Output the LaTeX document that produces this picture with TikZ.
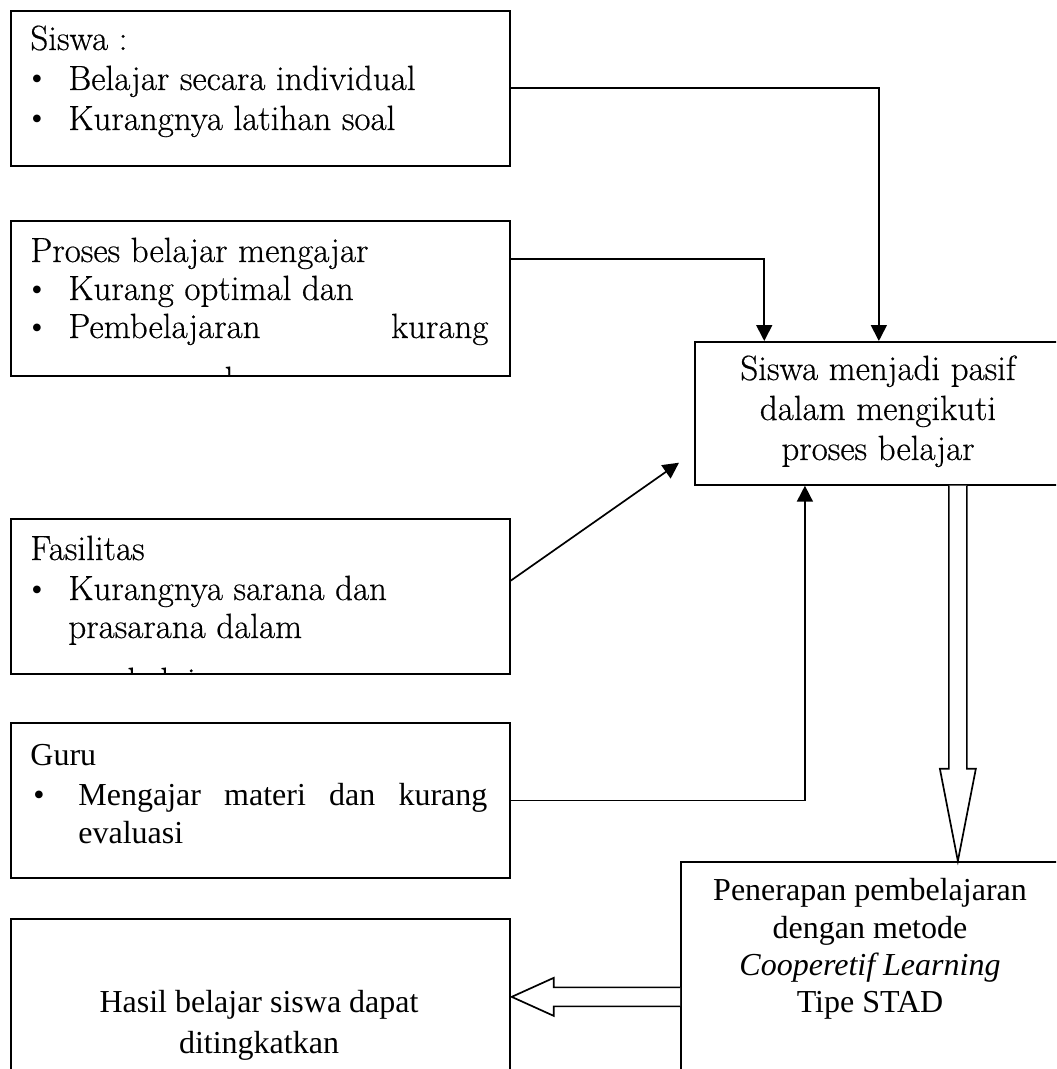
\documentclass[tikz,border=0pt]{standalone}
\usepackage{fontspec}
\newfontfamily\timesfam{Liberation Serif}
\newfontfamily\bookfam{Latin Modern Roman}[FakeBold=0.5]
\usetikzlibrary{arrows.meta,calc,positioning}

\newcommand{\pala}{\bookfam\fontsize{17.5}{20}\selectfont}
\newcommand{\tms}{\timesfam\fontsize{16}{20}\selectfont}
\newcommand{\dotmark}{{\timesfam\fontsize{16}{20}\selectfont\textbullet}}

\begin{document}
\begin{tikzpicture}[x=0.5pt,y=-0.5pt,
    box/.style={draw, line width=0.85pt, anchor=north west, inner sep=0pt},
    txt/.style={anchor=base west, inner sep=0pt},
    mid/.style={anchor=base, inner sep=0pt},
    link/.style={line width=0.85pt},
    tip/.style={link, -{Triangle[length=8pt,width=8pt]}},
    hollow/.style={link, fill=white}]
  \clip (0,0) rectangle (1056,1069);

  % Boxes
  \node[box, minimum width=249.5pt, minimum height=77.5pt] (siswa) at (10,10) {};
  \node[box, minimum width=249.5pt, minimum height=77.5pt] (proses) at (10,220) {};
  \node[box, minimum width=249.5pt, minimum height=77.5pt] (fasil) at (10,518) {};
  \node[box, minimum width=249.5pt, minimum height=77.5pt] (guru) at (10,722) {};
  \node[box, minimum width=249.5pt, minimum height=100pt] (hasil) at (10,918) {};
  \node[box, minimum width=184pt, minimum height=71.5pt] (pasif) at (694,341) {};
  \node[box, minimum width=190pt, minimum height=135pt] (terap) at (680,861) {};

  % Siswa
  \begin{scope}[font=\pala]
    \node[txt] (s0) at (30,50) {Siswa :};
    \node[txt] (s1b) at (31,90) {\dotmark};
    \node[txt] (s1) at (68,90) {Belajar secara individual};
    \node[txt] (s2b) at (31,130) {\dotmark};
    \node[txt] (s2) at (68,130) {Kurangnya latihan soal};
  \end{scope}

  % Proses belajar mengajar
  \begin{scope}[font=\pala]
    \clip (proses.north west) rectangle (proses.south east);
    \node[txt] (p0) at (30,262) {Proses belajar mengajar};
    \node[txt] (p1b) at (31,300) {\dotmark};
    \node[txt] (p1) at (68,300) {Kurang optimal dan};
    \node[txt] (p2b) at (31,338) {\dotmark};
    \node[txt] (p2) at (68,338) {\makebox[210pt][s]{Pembelajaran kurang}};
    \node[txt] (p3) at (68,391) {menyenangkan};
  \end{scope}

  % Fasilitas
  \begin{scope}[font=\pala]
    \clip (fasil.north west) rectangle (fasil.south east);
    \node[txt] (f0) at (30,560) {Fasilitas};
    \node[txt] (f1b) at (31,600) {\dotmark};
    \node[txt] (f1) at (68,600) {Kurangnya sarana dan};
    \node[txt] (f2) at (68,638) {prasarana dalam};
    \node[txt] (f3) at (68,692) {pembelajaran};
  \end{scope}

  % Guru
  \begin{scope}[font=\tms]
    \node[txt] (g0) at (30,765) {Guru};
    \node[txt] (g1b) at (33,805) {\textbullet};
    \node[txt] (g1) at (78,805) {\makebox[204.5pt][s]{Mengajar materi dan kurang}};
    \node[txt] (g2) at (78,843) {evaluasi};
  \end{scope}

  % Siswa menjadi pasif
  \node[mid, font=\pala] (m1) at (878,380) {Siswa menjadi pasif};
  \node[mid, font=\pala] (m2) at (878,420) {dalam mengikuti};
  \node[mid, font=\pala] (m3) at (878,460) {proses belajar};

  % Penerapan
  \begin{scope}[font=\tms]
    \node[mid] (t1) at (870,900) {Penerapan pembelajaran};
    \node[mid] (t2) at (870,938) {dengan metode};
    \node[mid] (t3) at (870,975) {\itshape Cooperetif Learning};
    \node[mid] (t4) at (870,1012) {Tipe STAD};
    \node[mid] (h1) at (259,1012) {Hasil belajar siswa dapat};
    \node[mid] (h2) at (259,1053) {ditingkatkan};
  \end{scope}

  % Connectors
  \draw[tip] (siswa.east) -| (pasif.north);
  \draw[tip] ($(proses.north east)!0.25!(proses.south east)$) -| ($(pasif.north west)!0.19!(pasif.north east)$);
  \draw[tip] ($(fasil.north east)!0.4!(fasil.south east)$) -- ($(pasif.south west)+(-15,-23)$);
  \draw[tip] (guru.east) -| ($(pasif.south west)!0.3!(pasif.south east)$);

  % Block arrows
  \coordinate (dn) at ($(pasif.south)+(79,0)$);
  \draw[hollow] ($(dn)+(-9,0)$) -- ($(dn)+(-9,283)$) -- ($(dn)+(-18,283)$)
    -- (dn |- terap.north) -- ($(dn)+(18,283)$) -- ($(dn)+(9,283)$) -- ($(dn)+(9,0)$);
  \coordinate (lf) at (hasil.east |- terap.west);
  \draw[hollow] ($(terap.west)+(0,-9.5)$) -- ($(lf)+(43,-9.5)$) -- ($(lf)+(43,-19)$)
    -- ($(lf)+(1,0)$) -- ($(lf)+(43,19)$) -- ($(lf)+(43,9.5)$) -- ($(terap.west)+(0,9.5)$);
\end{tikzpicture}
\end{document}
